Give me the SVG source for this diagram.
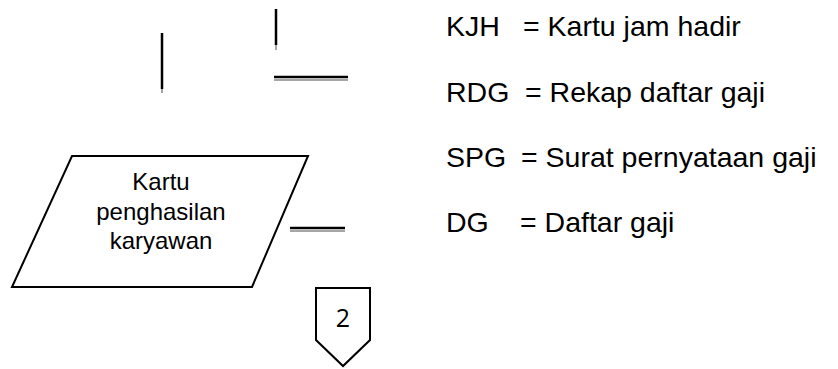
<svg xmlns="http://www.w3.org/2000/svg" width="838" height="369" viewBox="0 0 838 369">
  <style>
    .shape { fill: none; stroke: #000; stroke-width: 2; stroke-linejoin: miter; }
    .line { stroke: #000; stroke-width: 2.5; }
    .shade { stroke: #a6a6a6; stroke-width: 2; }
    .label { font-family: "Liberation Sans", Arial, sans-serif; font-size: 24px; fill: #000; }
    .legend { font-family: "Liberation Sans", Arial, sans-serif; font-size: 28.5px; fill: #000; }
    .num { font-family: "Open Sans", "Liberation Sans", sans-serif; font-size: 25px; fill: #000; }
  </style>

  <!-- connector stubs -->
  <g id="connectors">
    <line class="shade" x1="162" y1="88" x2="162" y2="93"/>
    <line class="line" x1="162" y1="33" x2="162" y2="89"/>

    <line class="shade" x1="276" y1="44" x2="276" y2="50"/>
    <line class="line" x1="276" y1="9" x2="276" y2="45"/>

    <line class="shade" x1="274" y1="80" x2="348" y2="80"/>
    <line class="line" x1="274" y1="77" x2="348" y2="77"/>

    <line class="shade" x1="290" y1="231" x2="345" y2="231"/>
    <line class="line" x1="290" y1="228" x2="345" y2="228"/>
  </g>

  <!-- input/output document -->
  <g id="kartu-penghasilan">
    <polygon class="shape" points="72,156 308,156 252,287 12,287"/>
    <text class="label" x="161" y="190" text-anchor="middle">Kartu</text>
    <text class="label" x="161" y="220" text-anchor="middle">penghasilan</text>
    <text class="label" x="161" y="249" text-anchor="middle">karyawan</text>
  </g>

  <!-- off-page connector -->
  <g id="offpage-2">
    <polygon class="shape" points="316,288 370,288 370,340 343,366 316,340"/>
    <text class="num" x="343" y="327" text-anchor="middle">2</text>
  </g>

  <!-- abbreviations -->
  <g id="legend">
    <text class="legend" x="446" y="36">KJH</text>
    <text class="legend" x="523" y="36">= Kartu jam hadir</text>
    <text class="legend" x="446" y="102">RDG</text>
    <text class="legend" x="525" y="102">= Rekap daftar gaji</text>
    <text class="legend" x="446" y="167">SPG</text>
    <text class="legend" x="521" y="167">= Surat pernyataan gaji</text>
    <text class="legend" x="446" y="232">DG</text>
    <text class="legend" x="520" y="232">= Daftar gaji</text>
  </g>
</svg>
